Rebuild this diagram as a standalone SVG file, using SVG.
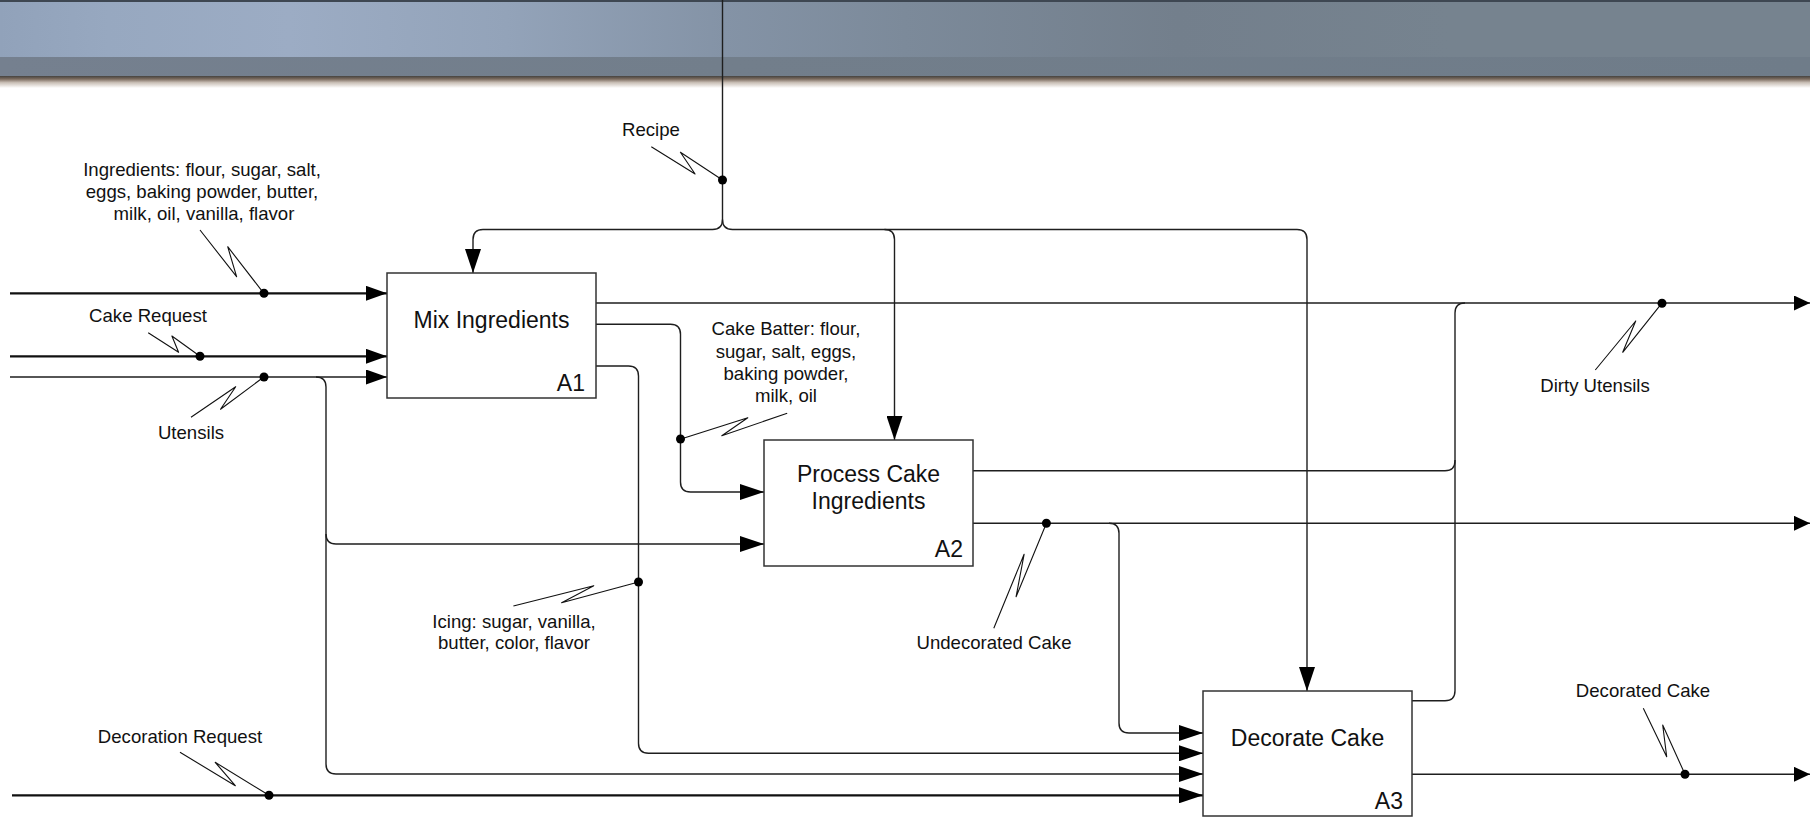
<svg xmlns="http://www.w3.org/2000/svg" width="1810" height="818" viewBox="0 0 1810 818">
<defs>
<linearGradient id="hdr" x1="0" y1="0" x2="1" y2="0">
<stop offset="0" stop-color="#91a2ba"/>
<stop offset="0.06" stop-color="#97a8c0"/>
<stop offset="0.16" stop-color="#9cacc4"/>
<stop offset="0.28" stop-color="#93a3b9"/>
<stop offset="0.4" stop-color="#8493a6"/>
<stop offset="0.5" stop-color="#7c8a9a"/>
<stop offset="0.65" stop-color="#737f8c"/>
<stop offset="0.8" stop-color="#76838f"/>
<stop offset="1" stop-color="#76838f"/>
</linearGradient>
<linearGradient id="band" x1="0" y1="0" x2="1" y2="0">
<stop offset="0" stop-color="#75808f"/>
<stop offset="0.4" stop-color="#727e8b"/>
<stop offset="1" stop-color="#6f7c89"/>
</linearGradient>
<linearGradient id="shadow" x1="0" y1="0" x2="0" y2="1">
<stop offset="0" stop-color="#46433f"/>
<stop offset="0.25" stop-color="#7a6a5e"/>
<stop offset="0.55" stop-color="#c9bfb6"/>
<stop offset="1" stop-color="#ffffff"/>
</linearGradient>
<marker id="arr" viewBox="0 0 24 16" refX="24" refY="8" markerWidth="24" markerHeight="16" markerUnits="userSpaceOnUse" orient="auto">
<path d="M0,0 L24,8 L0,16 z" fill="#000"/>
</marker>
<marker id="arrS" viewBox="0 0 21 15" refX="21" refY="7.5" markerWidth="21" markerHeight="15" markerUnits="userSpaceOnUse" orient="auto">
<path d="M0,0 L21,7.5 L0,15 z" fill="#000"/>
</marker>
<marker id="arrOut" viewBox="0 0 16 15" refX="16" refY="7.5" markerWidth="16" markerHeight="15" markerUnits="userSpaceOnUse" orient="auto">
<path d="M0,0 L16,7.5 L0,15 z" fill="#000"/>
</marker>
</defs>
<style>
.box{fill:#fff;stroke:#333;stroke-width:1.5}
.title{font-family:"Liberation Sans",Arial,sans-serif;font-size:23px;fill:#111;text-anchor:middle}
.num{font-family:"Liberation Sans",Arial,sans-serif;font-size:23px;fill:#111;text-anchor:end}
.lbl{font-family:"Liberation Sans",Arial,sans-serif;font-size:18.6px;fill:#111;text-anchor:middle}
.ln{fill:none;stroke:#1e1e1e;stroke-width:1.4}
.thick{fill:none;stroke:#111;stroke-width:2.2}
.sq{fill:none;stroke:#111;stroke-width:1.1;stroke-linejoin:round}
.dot{fill:#000}
</style>
<rect width="1810" height="818" fill="#fff"/>
<g id="header">
<rect x="0" y="0" width="1810" height="58" fill="url(#hdr)"/>
<rect x="0" y="57" width="1810" height="19" fill="url(#band)"/>
<rect x="0" y="76" width="1810" height="12" fill="url(#shadow)"/>
<rect x="0" y="0" width="1810" height="2" fill="#3e4752"/>
</g>
<g id="connectors">
<path class="ln" d="M722.5,0 V219.5 Q722.5,229.5 712.5,229.5 H483 Q473,229.5 473,239.5 V273" marker-end="url(#arr)"/>
<path class="ln" d="M722.5,219.5 Q722.5,229.5 732.5,229.5 H884.5 Q894.5,229.5 894.5,239.5 V440" marker-end="url(#arr)"/>
<path class="ln" d="M884.5,229.5 H1297 Q1307,229.5 1307,239.5 V691" marker-end="url(#arr)"/>
<path class="thick" d="M10,293.3 H387" marker-end="url(#arrS)"/>
<path class="thick" d="M10,356.3 H387" marker-end="url(#arrS)"/>
<path class="ln" style="stroke-width:1.7" d="M10,377 H387" marker-end="url(#arrS)"/>
<path class="ln" d="M316,377 Q326,377 326,387 V534 Q326,544 336,544 H764" marker-end="url(#arr)"/>
<path class="ln" d="M326,534 V764 Q326,774 336,774 H1203" marker-end="url(#arr)"/>
<path class="thick" d="M12,795.3 H1203" marker-end="url(#arr)"/>
<path class="ln" d="M596,303 H1810" marker-end="url(#arrOut)"/>
<path class="ln" d="M596,324.3 H670.5 Q680.5,324.3 680.5,334.3 V482 Q680.5,492 690.5,492 H764" marker-end="url(#arr)"/>
<path class="ln" d="M596,366 H628.5 Q638.5,366 638.5,376 V743.3 Q638.5,753.3 648.5,753.3 H1203" marker-end="url(#arr)"/>
<path class="ln" d="M973,470.7 H1445 Q1455,470.7 1455,460.7 V313 Q1455,303 1465,303"/>
<path class="ln" d="M1412,700.7 H1445 Q1455,700.7 1455,690.7 V460"/>
<path class="ln" d="M973,523.3 H1810" marker-end="url(#arrOut)"/>
<path class="ln" d="M1109,523.3 Q1119,523.3 1119,533.3 V723 Q1119,733 1129,733 H1203" marker-end="url(#arr)"/>
<path class="ln" d="M1412,774.3 H1810" marker-end="url(#arrOut)"/>
<polyline class="sq" points="200,230 236.6,276.7 227.7,246.7 263.8,293.3"/>
<polyline class="sq" points="148.2,332.7 178.6,352.3 171.9,336 200,356.3"/>
<polyline class="sq" points="191,417.3 235.7,386.7 220.5,409.3 263.8,377"/>
<polyline class="sq" points="651.3,146.7 695.1,174 680.4,152.3 722.5,180"/>
<polyline class="sq" points="787.2,413.3 721.8,435.7 747.8,417.7 681,439"/>
<polyline class="sq" points="513.4,606 593.8,585.7 561.6,602.7 638.6,582"/>
<polyline class="sq" points="180,752.3 235.3,785.7 215.2,762.3 269,795.3"/>
<polyline class="sq" points="993.8,628.3 1024.1,554.3 1016.1,596.7 1046.4,523.3"/>
<polyline class="sq" points="1595.3,370 1635.7,321 1622.7,352.3 1661.7,303.3"/>
<polyline class="sq" points="1643.3,708.3 1666.7,756.7 1662.7,725 1685,774.3"/>
<circle class="dot" cx="264" cy="293.3" r="4.5"/>
<circle class="dot" cx="200" cy="356.3" r="4.5"/>
<circle class="dot" cx="264" cy="377" r="4.5"/>
<circle class="dot" cx="269" cy="795.3" r="4.5"/>
<circle class="dot" cx="722.5" cy="180" r="4.5"/>
<circle class="dot" cx="680.5" cy="439" r="4.5"/>
<circle class="dot" cx="638.5" cy="582" r="4.5"/>
<circle class="dot" cx="1046.4" cy="523.3" r="4.5"/>
<circle class="dot" cx="1662" cy="303.3" r="4.5"/>
<circle class="dot" cx="1685" cy="774.3" r="4.5"/>
<text class="lbl" x="651" y="136">Recipe</text>
<text class="lbl" x="202" y="176">Ingredients: flour, sugar, salt,</text>
<text class="lbl" x="202" y="198">eggs, baking powder, butter,</text>
<text class="lbl" x="204" y="220">milk, oil, vanilla, flavor</text>
<text class="lbl" x="148" y="321.7">Cake Request</text>
<text class="lbl" x="191" y="439.3">Utensils</text>
<text class="lbl" x="786" y="335">Cake Batter: flour,</text>
<text class="lbl" x="786" y="357.5">sugar, salt, eggs,</text>
<text class="lbl" x="786" y="380">baking powder,</text>
<text class="lbl" x="786" y="402">milk, oil</text>
<text class="lbl" x="514" y="628.3">Icing: sugar, vanilla,</text>
<text class="lbl" x="514" y="649.3">butter, color, flavor</text>
<text class="lbl" x="180" y="742.7">Decoration Request</text>
<text class="lbl" x="994" y="649.3">Undecorated Cake</text>
<text class="lbl" x="1595" y="392.3">Dirty Utensils</text>
<text class="lbl" x="1643" y="696.7">Decorated Cake</text>
</g>
<g id="A1">
<rect class="box" x="387" y="273" width="209" height="125"/>
<text class="title" x="491.5" y="328">Mix Ingredients</text>
<text class="num" x="585" y="390.7">A1</text>
</g>
<g id="A2">
<rect class="box" x="764" y="440" width="209" height="126"/>
<text class="title" x="868.5" y="481.7">Process Cake</text>
<text class="title" x="868.5" y="509.3">Ingredients</text>
<text class="num" x="963" y="557.3">A2</text>
</g>
<g id="A3">
<rect class="box" x="1203" y="691" width="209" height="125"/>
<text class="title" x="1307.5" y="746">Decorate Cake</text>
<text class="num" x="1403" y="808.7">A3</text>
</g>
</svg>
